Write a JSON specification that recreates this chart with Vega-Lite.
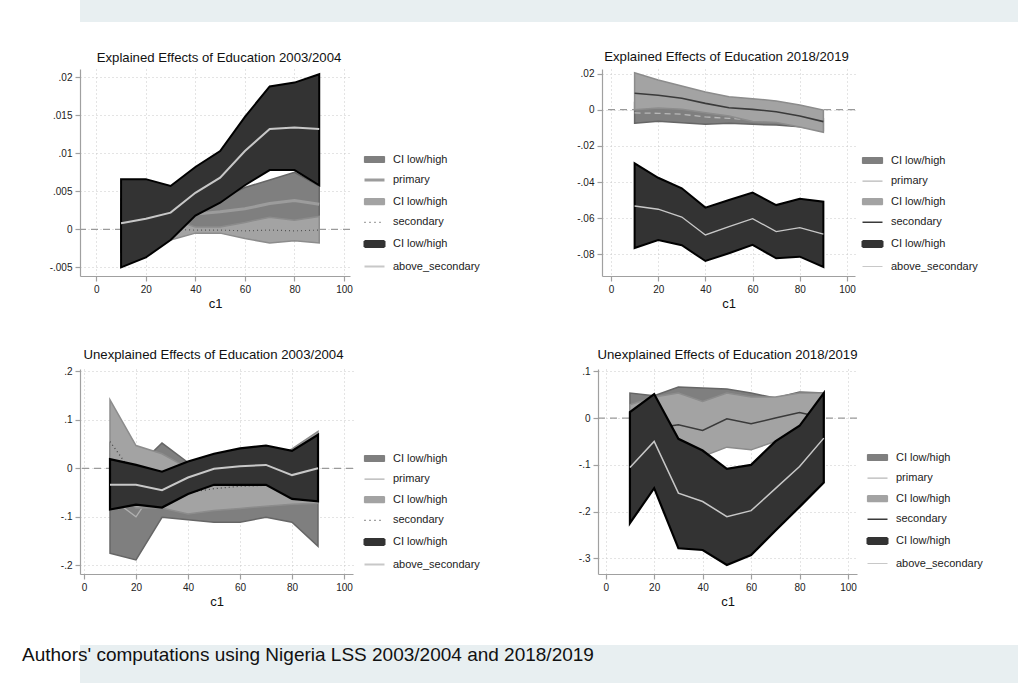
{
  "$schema": "https://vega.github.io/schema/vega-lite/v6.json",
  "background": "#ffffff",
  "padding": 0,
  "spacing": 28,
  "columns": 1,
  "align": "none",
  "datasets": {
    "p1": [
      {"c1": 10, "series": "primary", "ci": "ci_primary", "lo": -0.003, "hi": 0.004, "est": 0.0005},
      {"c1": 20, "series": "primary", "ci": "ci_primary", "lo": -0.002, "hi": 0.004, "est": 0.001},
      {"c1": 30, "series": "primary", "ci": "ci_primary", "lo": -0.001, "hi": 0.003, "est": 0.0012},
      {"c1": 40, "series": "primary", "ci": "ci_primary", "lo": 0.0, "hi": 0.0035, "est": 0.002},
      {"c1": 50, "series": "primary", "ci": "ci_primary", "lo": 0.0, "hi": 0.004, "est": 0.0023},
      {"c1": 60, "series": "primary", "ci": "ci_primary", "lo": 0.0002, "hi": 0.0055, "est": 0.0027},
      {"c1": 70, "series": "primary", "ci": "ci_primary", "lo": 0.0005, "hi": 0.0065, "est": 0.0034},
      {"c1": 80, "series": "primary", "ci": "ci_primary", "lo": 0.0003, "hi": 0.0075, "est": 0.0038},
      {"c1": 90, "series": "primary", "ci": "ci_primary", "lo": 0.0005, "hi": 0.0057, "est": 0.0033},
      {"c1": 10, "series": "secondary", "ci": "ci_secondary", "lo": -0.002, "hi": 0.002, "est": 0.0},
      {"c1": 20, "series": "secondary", "ci": "ci_secondary", "lo": -0.002, "hi": 0.002, "est": 0.0},
      {"c1": 30, "series": "secondary", "ci": "ci_secondary", "lo": -0.0014, "hi": 0.0014, "est": 0.0},
      {"c1": 40, "series": "secondary", "ci": "ci_secondary", "lo": -0.0005, "hi": 0.0003, "est": -0.0001},
      {"c1": 50, "series": "secondary", "ci": "ci_secondary", "lo": -0.0005, "hi": 0.0003, "est": -0.0001},
      {"c1": 60, "series": "secondary", "ci": "ci_secondary", "lo": -0.0012, "hi": 0.0009, "est": -0.0002},
      {"c1": 70, "series": "secondary", "ci": "ci_secondary", "lo": -0.0018, "hi": 0.0016, "est": -0.0001},
      {"c1": 80, "series": "secondary", "ci": "ci_secondary", "lo": -0.0015, "hi": 0.0012, "est": -0.0002},
      {"c1": 90, "series": "secondary", "ci": "ci_secondary", "lo": -0.0018, "hi": 0.0017, "est": -0.0001},
      {"c1": 10, "series": "above_secondary", "ci": "ci_above", "lo": -0.005, "hi": 0.0066, "est": 0.0008},
      {"c1": 20, "series": "above_secondary", "ci": "ci_above", "lo": -0.0037, "hi": 0.0066, "est": 0.0014},
      {"c1": 30, "series": "above_secondary", "ci": "ci_above", "lo": -0.0014, "hi": 0.0057, "est": 0.0022},
      {"c1": 40, "series": "above_secondary", "ci": "ci_above", "lo": 0.0018, "hi": 0.0082, "est": 0.0048},
      {"c1": 50, "series": "above_secondary", "ci": "ci_above", "lo": 0.0035, "hi": 0.0103, "est": 0.0068},
      {"c1": 60, "series": "above_secondary", "ci": "ci_above", "lo": 0.0058, "hi": 0.0148, "est": 0.0103},
      {"c1": 70, "series": "above_secondary", "ci": "ci_above", "lo": 0.0078, "hi": 0.0188, "est": 0.0132},
      {"c1": 80, "series": "above_secondary", "ci": "ci_above", "lo": 0.0078, "hi": 0.0193, "est": 0.0134},
      {"c1": 90, "series": "above_secondary", "ci": "ci_above", "lo": 0.0058, "hi": 0.0204, "est": 0.0132}
    ],
    "p2": [
      {"c1": 10, "series": "primary", "ci": "ci_primary", "lo": -0.0075, "hi": 0.004, "est": -0.0018},
      {"c1": 20, "series": "primary", "ci": "ci_primary", "lo": -0.0064, "hi": 0.004, "est": -0.002},
      {"c1": 30, "series": "primary", "ci": "ci_primary", "lo": -0.0072, "hi": 0.003, "est": -0.0025},
      {"c1": 40, "series": "primary", "ci": "ci_primary", "lo": -0.0081, "hi": 0.001, "est": -0.004},
      {"c1": 50, "series": "primary", "ci": "ci_primary", "lo": -0.0075, "hi": 0.0, "est": -0.0048},
      {"c1": 60, "series": "primary", "ci": "ci_primary", "lo": -0.0081, "hi": -0.001, "est": -0.0055},
      {"c1": 70, "series": "primary", "ci": "ci_primary", "lo": -0.0085, "hi": -0.002, "est": -0.006},
      {"c1": 80, "series": "primary", "ci": "ci_primary", "lo": -0.0094, "hi": -0.003, "est": -0.007},
      {"c1": 90, "series": "primary", "ci": "ci_primary", "lo": -0.0115, "hi": -0.005, "est": -0.009},
      {"c1": 10, "series": "secondary", "ci": "ci_secondary", "lo": 0.0, "hi": 0.0204, "est": 0.0091},
      {"c1": 20, "series": "secondary", "ci": "ci_secondary", "lo": 0.001, "hi": 0.0164, "est": 0.008},
      {"c1": 30, "series": "secondary", "ci": "ci_secondary", "lo": 0.0003, "hi": 0.0131, "est": 0.0063},
      {"c1": 40, "series": "secondary", "ci": "ci_secondary", "lo": -0.0017, "hi": 0.0098, "est": 0.0035},
      {"c1": 50, "series": "secondary", "ci": "ci_secondary", "lo": -0.0035, "hi": 0.0072, "est": 0.0011},
      {"c1": 60, "series": "secondary", "ci": "ci_secondary", "lo": -0.0065, "hi": 0.0061, "est": 0.0002},
      {"c1": 70, "series": "secondary", "ci": "ci_secondary", "lo": -0.007, "hi": 0.0048, "est": -0.0011},
      {"c1": 80, "series": "secondary", "ci": "ci_secondary", "lo": -0.0095, "hi": 0.0026, "est": -0.0035},
      {"c1": 90, "series": "secondary", "ci": "ci_secondary", "lo": -0.0125, "hi": -0.0002, "est": -0.0066},
      {"c1": 10, "series": "above_secondary", "ci": "ci_above", "lo": -0.0764, "hi": -0.0296, "est": -0.0532},
      {"c1": 20, "series": "above_secondary", "ci": "ci_above", "lo": -0.072, "hi": -0.0376, "est": -0.055},
      {"c1": 30, "series": "above_secondary", "ci": "ci_above", "lo": -0.0749, "hi": -0.0434, "est": -0.0593},
      {"c1": 40, "series": "above_secondary", "ci": "ci_above", "lo": -0.0836, "hi": -0.0541, "est": -0.0692},
      {"c1": 50, "series": "above_secondary", "ci": "ci_above", "lo": -0.0793, "hi": -0.0499, "est": -0.0646},
      {"c1": 60, "series": "above_secondary", "ci": "ci_above", "lo": -0.0747, "hi": -0.0458, "est": -0.0602},
      {"c1": 70, "series": "above_secondary", "ci": "ci_above", "lo": -0.0821, "hi": -0.0527, "est": -0.0674},
      {"c1": 80, "series": "above_secondary", "ci": "ci_above", "lo": -0.0812, "hi": -0.0492, "est": -0.0652},
      {"c1": 90, "series": "above_secondary", "ci": "ci_above", "lo": -0.0869, "hi": -0.0508, "est": -0.0688}
    ],
    "p3": [
      {"c1": 10, "series": "primary", "ci": "ci_primary", "lo": -0.175, "hi": 0.05, "est": -0.06},
      {"c1": 20, "series": "primary", "ci": "ci_primary", "lo": -0.189, "hi": 0.0, "est": -0.1},
      {"c1": 30, "series": "primary", "ci": "ci_primary", "lo": -0.101, "hi": 0.052, "est": -0.02},
      {"c1": 40, "series": "primary", "ci": "ci_primary", "lo": -0.106, "hi": 0.012, "est": -0.045},
      {"c1": 50, "series": "primary", "ci": "ci_primary", "lo": -0.111, "hi": 0.02, "est": -0.05},
      {"c1": 60, "series": "primary", "ci": "ci_primary", "lo": -0.111, "hi": 0.03, "est": -0.05},
      {"c1": 70, "series": "primary", "ci": "ci_primary", "lo": -0.101, "hi": 0.035, "est": -0.045},
      {"c1": 80, "series": "primary", "ci": "ci_primary", "lo": -0.111, "hi": 0.03, "est": -0.04},
      {"c1": 90, "series": "primary", "ci": "ci_primary", "lo": -0.161, "hi": 0.06, "est": -0.045},
      {"c1": 10, "series": "secondary", "ci": "ci_secondary", "lo": -0.03, "hi": 0.141, "est": 0.055},
      {"c1": 20, "series": "secondary", "ci": "ci_secondary", "lo": -0.082, "hi": 0.047, "est": -0.02},
      {"c1": 30, "series": "secondary", "ci": "ci_secondary", "lo": -0.082, "hi": 0.03, "est": -0.03},
      {"c1": 40, "series": "secondary", "ci": "ci_secondary", "lo": -0.094, "hi": 0.0, "est": -0.05},
      {"c1": 50, "series": "secondary", "ci": "ci_secondary", "lo": -0.087, "hi": 0.0, "est": -0.042},
      {"c1": 60, "series": "secondary", "ci": "ci_secondary", "lo": -0.083, "hi": 0.01, "est": -0.037},
      {"c1": 70, "series": "secondary", "ci": "ci_secondary", "lo": -0.078, "hi": 0.01, "est": -0.035},
      {"c1": 80, "series": "secondary", "ci": "ci_secondary", "lo": -0.074, "hi": 0.04, "est": -0.03},
      {"c1": 90, "series": "secondary", "ci": "ci_secondary", "lo": -0.072, "hi": 0.076, "est": 0.0},
      {"c1": 10, "series": "above_secondary", "ci": "ci_above", "lo": -0.085, "hi": 0.019, "est": -0.034},
      {"c1": 20, "series": "above_secondary", "ci": "ci_above", "lo": -0.075, "hi": 0.007, "est": -0.034},
      {"c1": 30, "series": "above_secondary", "ci": "ci_above", "lo": -0.081, "hi": -0.007, "est": -0.045},
      {"c1": 40, "series": "above_secondary", "ci": "ci_above", "lo": -0.053, "hi": 0.014, "est": -0.019},
      {"c1": 50, "series": "above_secondary", "ci": "ci_above", "lo": -0.034, "hi": 0.03, "est": -0.001},
      {"c1": 60, "series": "above_secondary", "ci": "ci_above", "lo": -0.034, "hi": 0.041, "est": 0.004},
      {"c1": 70, "series": "above_secondary", "ci": "ci_above", "lo": -0.034, "hi": 0.047, "est": 0.007},
      {"c1": 80, "series": "above_secondary", "ci": "ci_above", "lo": -0.063, "hi": 0.036, "est": -0.014},
      {"c1": 90, "series": "above_secondary", "ci": "ci_above", "lo": -0.068, "hi": 0.069, "est": 0.0}
    ],
    "p4": [
      {"c1": 10, "series": "primary", "ci": "ci_primary", "lo": -0.03, "hi": 0.0536, "est": 0.01},
      {"c1": 20, "series": "primary", "ci": "ci_primary", "lo": -0.04, "hi": 0.0478, "est": 0.01},
      {"c1": 30, "series": "primary", "ci": "ci_primary", "lo": -0.05, "hi": 0.0664, "est": 0.02},
      {"c1": 40, "series": "primary", "ci": "ci_primary", "lo": -0.06, "hi": 0.0643, "est": 0.0},
      {"c1": 50, "series": "primary", "ci": "ci_primary", "lo": -0.05, "hi": 0.0621, "est": 0.02},
      {"c1": 60, "series": "primary", "ci": "ci_primary", "lo": -0.05, "hi": 0.0536, "est": 0.015},
      {"c1": 70, "series": "primary", "ci": "ci_primary", "lo": -0.04, "hi": 0.0429, "est": 0.01},
      {"c1": 80, "series": "primary", "ci": "ci_primary", "lo": -0.02, "hi": 0.0557, "est": 0.02},
      {"c1": 90, "series": "primary", "ci": "ci_primary", "lo": 0.0, "hi": 0.0536, "est": 0.025},
      {"c1": 10, "series": "secondary", "ci": "ci_secondary", "lo": -0.02, "hi": 0.0285, "est": -0.03},
      {"c1": 20, "series": "secondary", "ci": "ci_secondary", "lo": -0.03, "hi": 0.045, "est": -0.022},
      {"c1": 30, "series": "secondary", "ci": "ci_secondary", "lo": -0.05, "hi": 0.0536, "est": -0.0143},
      {"c1": 40, "series": "secondary", "ci": "ci_secondary", "lo": -0.082, "hi": 0.0357, "est": -0.0265},
      {"c1": 50, "series": "secondary", "ci": "ci_secondary", "lo": -0.0622, "hi": 0.0536, "est": -0.0015},
      {"c1": 60, "series": "secondary", "ci": "ci_secondary", "lo": -0.068, "hi": 0.045, "est": -0.0122},
      {"c1": 70, "series": "secondary", "ci": "ci_secondary", "lo": -0.05, "hi": 0.045, "est": 0.0},
      {"c1": 80, "series": "secondary", "ci": "ci_secondary", "lo": -0.03, "hi": 0.0536, "est": 0.012},
      {"c1": 90, "series": "secondary", "ci": "ci_secondary", "lo": 0.0, "hi": 0.0536, "est": 0.0},
      {"c1": 10, "series": "above_secondary", "ci": "ci_above", "lo": -0.225, "hi": 0.0128, "est": -0.1058},
      {"c1": 20, "series": "above_secondary", "ci": "ci_above", "lo": -0.15, "hi": 0.0514, "est": -0.05},
      {"c1": 30, "series": "above_secondary", "ci": "ci_above", "lo": -0.2786, "hi": -0.0444, "est": -0.1607},
      {"c1": 40, "series": "above_secondary", "ci": "ci_above", "lo": -0.2822, "hi": -0.0694, "est": -0.1786},
      {"c1": 50, "series": "above_secondary", "ci": "ci_above", "lo": -0.3143, "hi": -0.1086, "est": -0.2108},
      {"c1": 60, "series": "above_secondary", "ci": "ci_above", "lo": -0.293, "hi": -0.1001, "est": -0.198},
      {"c1": 70, "series": "above_secondary", "ci": "ci_above", "lo": -0.241, "hi": -0.05, "est": -0.151},
      {"c1": 80, "series": "above_secondary", "ci": "ci_above", "lo": -0.19, "hi": -0.0165, "est": -0.1037},
      {"c1": 90, "series": "above_secondary", "ci": "ci_above", "lo": -0.138, "hi": 0.0536, "est": -0.0429}
    ]
  },
  "concat": [
    {
      "width": 1018,
      "height": 22,
      "data": {"values": []},
      "mark": "rect",
      "view": {"fill": "#e8eff1", "stroke": null}
    },
    {
      "spacing": 37,
      "columns": 1,
      "align": "none",
      "concat": [
        {
          "spacing": 38,
          "columns": 1,
          "align": "none",
          "concat": [
            {
              "spacing": 82,
              "hconcat": [
                {
                  "width": 270,
                  "height": 207,
                  "title": {"text": "Explained Effects of Education 2003/2004", "dx": 4},
                  "data": {"name": "p1"},
                  "layer": [
                    {
                      "data": {"values": [{"ref": 0}]},
                      "mark": {"type": "rule", "color": "#9a9a9a", "strokeDash": [7, 5], "strokeWidth": 1.2},
                      "encoding": {
                        "y": {"field": "ref", "type": "quantitative", "scale": {"domain": [-0.00614, 0.02109], "nice": false, "zero": false}, "axis": {"values": [-0.005, 0, 0.005, 0.01, 0.015, 0.02], "title": null, "minExtent": 80, "labelExpr": "(datum.value < 0 ? '-' : '') + replace(format(abs(datum.value), '~g'), '0.', '.')"}}
                      }
                    },
                    {
                      "transform": [{"filter": "datum.series == 'primary'"}],
                      "mark": {"type": "area", "stroke": "#666666", "strokeWidth": 1.5},
                      "encoding": {
                        "x": {"field": "c1", "type": "quantitative", "scale": {"domain": [-6.58, 102.42], "nice": false, "zero": false}, "axis": {"values": [0, 20, 40, 60, 80, 100], "title": "c1"}},
                        "y": {"field": "lo", "type": "quantitative", "scale": {"domain": [-0.00614, 0.02109], "nice": false, "zero": false}, "axis": {"values": [-0.005, 0, 0.005, 0.01, 0.015, 0.02], "title": null, "minExtent": 80, "labelExpr": "(datum.value < 0 ? '-' : '') + replace(format(abs(datum.value), '~g'), '0.', '.')"}},
                        "y2": {"field": "hi"},
                        "color": {"field": "ci", "type": "nominal", "scale": {"domain": ["ci_primary", "primary", "ci_secondary", "secondary", "ci_above", "above_secondary"], "range": ["#7f7f7f", "#9c9c9c", "#a3a3a3", "#555555", "#333333", "#c8c8c8"]}, "legend": {"orient": "none", "legendX": 289, "legendY": 85, "title": null, "labelExpr": "indexof(datum.label, 'ci_') == 0 ? 'CI low/high' : datum.label", "encode": {"symbols": {"update": {"shape": {"signal": "indexof(datum.value, 'ci_') == 0 ? 'M-1,-0.3H1V0.3H-1Z' : 'stroke'"}, "size": {"value": 400}, "opacity": {"value": 1}, "fill": {"signal": "datum.value == 'ci_primary' ? '#7f7f7f' : datum.value == 'ci_secondary' ? '#a3a3a3' : datum.value == 'ci_above' ? '#333333' : 'transparent'"}, "stroke": {"signal": "datum.value == 'ci_primary' ? '#666666' : datum.value == 'ci_secondary' ? '#8c8c8c' : datum.value == 'ci_above' ? '#000000' : datum.value == 'primary' ? '#9c9c9c' : datum.value == 'secondary' ? '#555555' : '#c8c8c8'"}, "strokeWidth": {"signal": "datum.value == 'ci_above' ? 2 : datum.value == 'primary' ? 3 : datum.value == 'above_secondary' ? 2 : 1.2"}, "strokeDash": {"signal": "datum.value == 'secondary' ? [1, 4] : [1, 0]"}}}}}}
                      }
                    },
                    {
                      "transform": [{"filter": "datum.series == 'primary'"}],
                      "mark": {"type": "line", "strokeWidth": 3},
                      "encoding": {
                        "x": {"field": "c1", "type": "quantitative", "scale": {"domain": [-6.58, 102.42], "nice": false, "zero": false}, "axis": {"values": [0, 20, 40, 60, 80, 100], "title": "c1"}},
                        "y": {"field": "est", "type": "quantitative", "scale": {"domain": [-0.00614, 0.02109], "nice": false, "zero": false}, "axis": {"values": [-0.005, 0, 0.005, 0.01, 0.015, 0.02], "title": null, "minExtent": 80, "labelExpr": "(datum.value < 0 ? '-' : '') + replace(format(abs(datum.value), '~g'), '0.', '.')"}},
                        "color": {"field": "series", "type": "nominal", "scale": {"domain": ["ci_primary", "primary", "ci_secondary", "secondary", "ci_above", "above_secondary"], "range": ["#7f7f7f", "#9c9c9c", "#a3a3a3", "#555555", "#333333", "#c8c8c8"]}, "legend": {"orient": "none", "legendX": 289, "legendY": 85, "title": null, "labelExpr": "indexof(datum.label, 'ci_') == 0 ? 'CI low/high' : datum.label", "encode": {"symbols": {"update": {"shape": {"signal": "indexof(datum.value, 'ci_') == 0 ? 'M-1,-0.3H1V0.3H-1Z' : 'stroke'"}, "size": {"value": 400}, "opacity": {"value": 1}, "fill": {"signal": "datum.value == 'ci_primary' ? '#7f7f7f' : datum.value == 'ci_secondary' ? '#a3a3a3' : datum.value == 'ci_above' ? '#333333' : 'transparent'"}, "stroke": {"signal": "datum.value == 'ci_primary' ? '#666666' : datum.value == 'ci_secondary' ? '#8c8c8c' : datum.value == 'ci_above' ? '#000000' : datum.value == 'primary' ? '#9c9c9c' : datum.value == 'secondary' ? '#555555' : '#c8c8c8'"}, "strokeWidth": {"signal": "datum.value == 'ci_above' ? 2 : datum.value == 'primary' ? 3 : datum.value == 'above_secondary' ? 2 : 1.2"}, "strokeDash": {"signal": "datum.value == 'secondary' ? [1, 4] : [1, 0]"}}}}}}
                      }
                    },
                    {
                      "transform": [{"filter": "datum.series == 'secondary'"}],
                      "mark": {"type": "area", "stroke": "#8c8c8c", "strokeWidth": 1.5},
                      "encoding": {
                        "x": {"field": "c1", "type": "quantitative", "scale": {"domain": [-6.58, 102.42], "nice": false, "zero": false}, "axis": {"values": [0, 20, 40, 60, 80, 100], "title": "c1"}},
                        "y": {"field": "lo", "type": "quantitative", "scale": {"domain": [-0.00614, 0.02109], "nice": false, "zero": false}, "axis": {"values": [-0.005, 0, 0.005, 0.01, 0.015, 0.02], "title": null, "minExtent": 80, "labelExpr": "(datum.value < 0 ? '-' : '') + replace(format(abs(datum.value), '~g'), '0.', '.')"}},
                        "y2": {"field": "hi"},
                        "color": {"field": "ci", "type": "nominal", "scale": {"domain": ["ci_primary", "primary", "ci_secondary", "secondary", "ci_above", "above_secondary"], "range": ["#7f7f7f", "#9c9c9c", "#a3a3a3", "#555555", "#333333", "#c8c8c8"]}, "legend": {"orient": "none", "legendX": 289, "legendY": 85, "title": null, "labelExpr": "indexof(datum.label, 'ci_') == 0 ? 'CI low/high' : datum.label", "encode": {"symbols": {"update": {"shape": {"signal": "indexof(datum.value, 'ci_') == 0 ? 'M-1,-0.3H1V0.3H-1Z' : 'stroke'"}, "size": {"value": 400}, "opacity": {"value": 1}, "fill": {"signal": "datum.value == 'ci_primary' ? '#7f7f7f' : datum.value == 'ci_secondary' ? '#a3a3a3' : datum.value == 'ci_above' ? '#333333' : 'transparent'"}, "stroke": {"signal": "datum.value == 'ci_primary' ? '#666666' : datum.value == 'ci_secondary' ? '#8c8c8c' : datum.value == 'ci_above' ? '#000000' : datum.value == 'primary' ? '#9c9c9c' : datum.value == 'secondary' ? '#555555' : '#c8c8c8'"}, "strokeWidth": {"signal": "datum.value == 'ci_above' ? 2 : datum.value == 'primary' ? 3 : datum.value == 'above_secondary' ? 2 : 1.2"}, "strokeDash": {"signal": "datum.value == 'secondary' ? [1, 4] : [1, 0]"}}}}}}
                      }
                    },
                    {
                      "transform": [{"filter": "datum.series == 'secondary'"}],
                      "mark": {"type": "line", "strokeWidth": 1.2, "strokeDash": [1, 3]},
                      "encoding": {
                        "x": {"field": "c1", "type": "quantitative", "scale": {"domain": [-6.58, 102.42], "nice": false, "zero": false}, "axis": {"values": [0, 20, 40, 60, 80, 100], "title": "c1"}},
                        "y": {"field": "est", "type": "quantitative", "scale": {"domain": [-0.00614, 0.02109], "nice": false, "zero": false}, "axis": {"values": [-0.005, 0, 0.005, 0.01, 0.015, 0.02], "title": null, "minExtent": 80, "labelExpr": "(datum.value < 0 ? '-' : '') + replace(format(abs(datum.value), '~g'), '0.', '.')"}},
                        "color": {"field": "series", "type": "nominal", "scale": {"domain": ["ci_primary", "primary", "ci_secondary", "secondary", "ci_above", "above_secondary"], "range": ["#7f7f7f", "#9c9c9c", "#a3a3a3", "#555555", "#333333", "#c8c8c8"]}, "legend": {"orient": "none", "legendX": 289, "legendY": 85, "title": null, "labelExpr": "indexof(datum.label, 'ci_') == 0 ? 'CI low/high' : datum.label", "encode": {"symbols": {"update": {"shape": {"signal": "indexof(datum.value, 'ci_') == 0 ? 'M-1,-0.3H1V0.3H-1Z' : 'stroke'"}, "size": {"value": 400}, "opacity": {"value": 1}, "fill": {"signal": "datum.value == 'ci_primary' ? '#7f7f7f' : datum.value == 'ci_secondary' ? '#a3a3a3' : datum.value == 'ci_above' ? '#333333' : 'transparent'"}, "stroke": {"signal": "datum.value == 'ci_primary' ? '#666666' : datum.value == 'ci_secondary' ? '#8c8c8c' : datum.value == 'ci_above' ? '#000000' : datum.value == 'primary' ? '#9c9c9c' : datum.value == 'secondary' ? '#555555' : '#c8c8c8'"}, "strokeWidth": {"signal": "datum.value == 'ci_above' ? 2 : datum.value == 'primary' ? 3 : datum.value == 'above_secondary' ? 2 : 1.2"}, "strokeDash": {"signal": "datum.value == 'secondary' ? [1, 4] : [1, 0]"}}}}}}
                      }
                    },
                    {
                      "transform": [{"filter": "datum.series == 'above_secondary'"}],
                      "mark": {"type": "area", "stroke": "#000000", "strokeWidth": 2},
                      "encoding": {
                        "x": {"field": "c1", "type": "quantitative", "scale": {"domain": [-6.58, 102.42], "nice": false, "zero": false}, "axis": {"values": [0, 20, 40, 60, 80, 100], "title": "c1"}},
                        "y": {"field": "lo", "type": "quantitative", "scale": {"domain": [-0.00614, 0.02109], "nice": false, "zero": false}, "axis": {"values": [-0.005, 0, 0.005, 0.01, 0.015, 0.02], "title": null, "minExtent": 80, "labelExpr": "(datum.value < 0 ? '-' : '') + replace(format(abs(datum.value), '~g'), '0.', '.')"}},
                        "y2": {"field": "hi"},
                        "color": {"field": "ci", "type": "nominal", "scale": {"domain": ["ci_primary", "primary", "ci_secondary", "secondary", "ci_above", "above_secondary"], "range": ["#7f7f7f", "#9c9c9c", "#a3a3a3", "#555555", "#333333", "#c8c8c8"]}, "legend": {"orient": "none", "legendX": 289, "legendY": 85, "title": null, "labelExpr": "indexof(datum.label, 'ci_') == 0 ? 'CI low/high' : datum.label", "encode": {"symbols": {"update": {"shape": {"signal": "indexof(datum.value, 'ci_') == 0 ? 'M-1,-0.3H1V0.3H-1Z' : 'stroke'"}, "size": {"value": 400}, "opacity": {"value": 1}, "fill": {"signal": "datum.value == 'ci_primary' ? '#7f7f7f' : datum.value == 'ci_secondary' ? '#a3a3a3' : datum.value == 'ci_above' ? '#333333' : 'transparent'"}, "stroke": {"signal": "datum.value == 'ci_primary' ? '#666666' : datum.value == 'ci_secondary' ? '#8c8c8c' : datum.value == 'ci_above' ? '#000000' : datum.value == 'primary' ? '#9c9c9c' : datum.value == 'secondary' ? '#555555' : '#c8c8c8'"}, "strokeWidth": {"signal": "datum.value == 'ci_above' ? 2 : datum.value == 'primary' ? 3 : datum.value == 'above_secondary' ? 2 : 1.2"}, "strokeDash": {"signal": "datum.value == 'secondary' ? [1, 4] : [1, 0]"}}}}}}
                      }
                    },
                    {
                      "transform": [{"filter": "datum.series == 'above_secondary'"}],
                      "mark": {"type": "line", "strokeWidth": 2},
                      "encoding": {
                        "x": {"field": "c1", "type": "quantitative", "scale": {"domain": [-6.58, 102.42], "nice": false, "zero": false}, "axis": {"values": [0, 20, 40, 60, 80, 100], "title": "c1"}},
                        "y": {"field": "est", "type": "quantitative", "scale": {"domain": [-0.00614, 0.02109], "nice": false, "zero": false}, "axis": {"values": [-0.005, 0, 0.005, 0.01, 0.015, 0.02], "title": null, "minExtent": 80, "labelExpr": "(datum.value < 0 ? '-' : '') + replace(format(abs(datum.value), '~g'), '0.', '.')"}},
                        "color": {"field": "series", "type": "nominal", "scale": {"domain": ["ci_primary", "primary", "ci_secondary", "secondary", "ci_above", "above_secondary"], "range": ["#7f7f7f", "#9c9c9c", "#a3a3a3", "#555555", "#333333", "#c8c8c8"]}, "legend": {"orient": "none", "legendX": 289, "legendY": 85, "title": null, "labelExpr": "indexof(datum.label, 'ci_') == 0 ? 'CI low/high' : datum.label", "encode": {"symbols": {"update": {"shape": {"signal": "indexof(datum.value, 'ci_') == 0 ? 'M-1,-0.3H1V0.3H-1Z' : 'stroke'"}, "size": {"value": 400}, "opacity": {"value": 1}, "fill": {"signal": "datum.value == 'ci_primary' ? '#7f7f7f' : datum.value == 'ci_secondary' ? '#a3a3a3' : datum.value == 'ci_above' ? '#333333' : 'transparent'"}, "stroke": {"signal": "datum.value == 'ci_primary' ? '#666666' : datum.value == 'ci_secondary' ? '#8c8c8c' : datum.value == 'ci_above' ? '#000000' : datum.value == 'primary' ? '#9c9c9c' : datum.value == 'secondary' ? '#555555' : '#c8c8c8'"}, "strokeWidth": {"signal": "datum.value == 'ci_above' ? 2 : datum.value == 'primary' ? 3 : datum.value == 'above_secondary' ? 2 : 1.2"}, "strokeDash": {"signal": "datum.value == 'secondary' ? [1, 4] : [1, 0]"}}}}}}
                      }
                    }
                  ]
                },
                {
                  "width": 253,
                  "height": 207,
                  "title": {"text": "Explained Effects of Education 2018/2019", "dx": -2},
                  "data": {"name": "p2"},
                  "layer": [
                    {
                      "data": {"values": [{"ref": 0}]},
                      "mark": {"type": "rule", "color": "#9a9a9a", "strokeDash": [7, 5], "strokeWidth": 1.2},
                      "encoding": {
                        "y": {"field": "ref", "type": "quantitative", "scale": {"domain": [-0.09188, 0.02249], "nice": false, "zero": false}, "axis": {"values": [-0.08, -0.06, -0.04, -0.02, 0, 0.02], "title": null, "minExtent": 40, "labelExpr": "(datum.value < 0 ? '-' : '') + replace(format(abs(datum.value), '~g'), '0.', '.')"}}
                      }
                    },
                    {
                      "transform": [{"filter": "datum.series == 'primary'"}],
                      "mark": {"type": "area", "stroke": "#666666", "strokeWidth": 1.5},
                      "encoding": {
                        "x": {"field": "c1", "type": "quantitative", "scale": {"domain": [-3.82, 103.4], "nice": false, "zero": false}, "axis": {"values": [0, 20, 40, 60, 80, 100], "title": "c1"}},
                        "y": {"field": "lo", "type": "quantitative", "scale": {"domain": [-0.09188, 0.02249], "nice": false, "zero": false}, "axis": {"values": [-0.08, -0.06, -0.04, -0.02, 0, 0.02], "title": null, "minExtent": 40, "labelExpr": "(datum.value < 0 ? '-' : '') + replace(format(abs(datum.value), '~g'), '0.', '.')"}},
                        "y2": {"field": "hi"},
                        "color": {"field": "ci", "type": "nominal", "scale": {"domain": ["ci_primary", "primary", "ci_secondary", "secondary", "ci_above", "above_secondary"], "range": ["#7f7f7f", "#b8b8b8", "#a3a3a3", "#3a3a3a", "#333333", "#c8c8c8"]}, "legend": {"orient": "none", "legendX": 265, "legendY": 86, "title": null, "labelExpr": "indexof(datum.label, 'ci_') == 0 ? 'CI low/high' : datum.label", "encode": {"symbols": {"update": {"shape": {"signal": "indexof(datum.value, 'ci_') == 0 ? 'M-1,-0.3H1V0.3H-1Z' : 'stroke'"}, "size": {"value": 400}, "opacity": {"value": 1}, "fill": {"signal": "datum.value == 'ci_primary' ? '#7f7f7f' : datum.value == 'ci_secondary' ? '#a3a3a3' : datum.value == 'ci_above' ? '#333333' : 'transparent'"}, "stroke": {"signal": "datum.value == 'ci_primary' ? '#666666' : datum.value == 'ci_secondary' ? '#8c8c8c' : datum.value == 'ci_above' ? '#000000' : datum.value == 'primary' ? '#b8b8b8' : datum.value == 'secondary' ? '#3a3a3a' : '#c8c8c8'"}, "strokeWidth": {"signal": "datum.value == 'ci_above' ? 2 : datum.value == 'secondary' ? 1.6 : 1.2"}, "strokeDash": {"value": [1, 0]}}}}}}
                      }
                    },
                    {
                      "transform": [{"filter": "datum.series == 'primary'"}],
                      "mark": {"type": "line", "strokeWidth": 1.3, "strokeDash": [6, 4]},
                      "encoding": {
                        "x": {"field": "c1", "type": "quantitative", "scale": {"domain": [-3.82, 103.4], "nice": false, "zero": false}, "axis": {"values": [0, 20, 40, 60, 80, 100], "title": "c1"}},
                        "y": {"field": "est", "type": "quantitative", "scale": {"domain": [-0.09188, 0.02249], "nice": false, "zero": false}, "axis": {"values": [-0.08, -0.06, -0.04, -0.02, 0, 0.02], "title": null, "minExtent": 40, "labelExpr": "(datum.value < 0 ? '-' : '') + replace(format(abs(datum.value), '~g'), '0.', '.')"}},
                        "color": {"field": "series", "type": "nominal", "scale": {"domain": ["ci_primary", "primary", "ci_secondary", "secondary", "ci_above", "above_secondary"], "range": ["#7f7f7f", "#b8b8b8", "#a3a3a3", "#3a3a3a", "#333333", "#c8c8c8"]}, "legend": {"orient": "none", "legendX": 265, "legendY": 86, "title": null, "labelExpr": "indexof(datum.label, 'ci_') == 0 ? 'CI low/high' : datum.label", "encode": {"symbols": {"update": {"shape": {"signal": "indexof(datum.value, 'ci_') == 0 ? 'M-1,-0.3H1V0.3H-1Z' : 'stroke'"}, "size": {"value": 400}, "opacity": {"value": 1}, "fill": {"signal": "datum.value == 'ci_primary' ? '#7f7f7f' : datum.value == 'ci_secondary' ? '#a3a3a3' : datum.value == 'ci_above' ? '#333333' : 'transparent'"}, "stroke": {"signal": "datum.value == 'ci_primary' ? '#666666' : datum.value == 'ci_secondary' ? '#8c8c8c' : datum.value == 'ci_above' ? '#000000' : datum.value == 'primary' ? '#b8b8b8' : datum.value == 'secondary' ? '#3a3a3a' : '#c8c8c8'"}, "strokeWidth": {"signal": "datum.value == 'ci_above' ? 2 : datum.value == 'secondary' ? 1.6 : 1.2"}, "strokeDash": {"value": [1, 0]}}}}}}
                      }
                    },
                    {
                      "transform": [{"filter": "datum.series == 'secondary'"}],
                      "mark": {"type": "area", "stroke": "#8c8c8c", "strokeWidth": 1.5},
                      "encoding": {
                        "x": {"field": "c1", "type": "quantitative", "scale": {"domain": [-3.82, 103.4], "nice": false, "zero": false}, "axis": {"values": [0, 20, 40, 60, 80, 100], "title": "c1"}},
                        "y": {"field": "lo", "type": "quantitative", "scale": {"domain": [-0.09188, 0.02249], "nice": false, "zero": false}, "axis": {"values": [-0.08, -0.06, -0.04, -0.02, 0, 0.02], "title": null, "minExtent": 40, "labelExpr": "(datum.value < 0 ? '-' : '') + replace(format(abs(datum.value), '~g'), '0.', '.')"}},
                        "y2": {"field": "hi"},
                        "color": {"field": "ci", "type": "nominal", "scale": {"domain": ["ci_primary", "primary", "ci_secondary", "secondary", "ci_above", "above_secondary"], "range": ["#7f7f7f", "#b8b8b8", "#a3a3a3", "#3a3a3a", "#333333", "#c8c8c8"]}, "legend": {"orient": "none", "legendX": 265, "legendY": 86, "title": null, "labelExpr": "indexof(datum.label, 'ci_') == 0 ? 'CI low/high' : datum.label", "encode": {"symbols": {"update": {"shape": {"signal": "indexof(datum.value, 'ci_') == 0 ? 'M-1,-0.3H1V0.3H-1Z' : 'stroke'"}, "size": {"value": 400}, "opacity": {"value": 1}, "fill": {"signal": "datum.value == 'ci_primary' ? '#7f7f7f' : datum.value == 'ci_secondary' ? '#a3a3a3' : datum.value == 'ci_above' ? '#333333' : 'transparent'"}, "stroke": {"signal": "datum.value == 'ci_primary' ? '#666666' : datum.value == 'ci_secondary' ? '#8c8c8c' : datum.value == 'ci_above' ? '#000000' : datum.value == 'primary' ? '#b8b8b8' : datum.value == 'secondary' ? '#3a3a3a' : '#c8c8c8'"}, "strokeWidth": {"signal": "datum.value == 'ci_above' ? 2 : datum.value == 'secondary' ? 1.6 : 1.2"}, "strokeDash": {"value": [1, 0]}}}}}}
                      }
                    },
                    {
                      "transform": [{"filter": "datum.series == 'secondary'"}],
                      "mark": {"type": "line", "strokeWidth": 1.6},
                      "encoding": {
                        "x": {"field": "c1", "type": "quantitative", "scale": {"domain": [-3.82, 103.4], "nice": false, "zero": false}, "axis": {"values": [0, 20, 40, 60, 80, 100], "title": "c1"}},
                        "y": {"field": "est", "type": "quantitative", "scale": {"domain": [-0.09188, 0.02249], "nice": false, "zero": false}, "axis": {"values": [-0.08, -0.06, -0.04, -0.02, 0, 0.02], "title": null, "minExtent": 40, "labelExpr": "(datum.value < 0 ? '-' : '') + replace(format(abs(datum.value), '~g'), '0.', '.')"}},
                        "color": {"field": "series", "type": "nominal", "scale": {"domain": ["ci_primary", "primary", "ci_secondary", "secondary", "ci_above", "above_secondary"], "range": ["#7f7f7f", "#b8b8b8", "#a3a3a3", "#3a3a3a", "#333333", "#c8c8c8"]}, "legend": {"orient": "none", "legendX": 265, "legendY": 86, "title": null, "labelExpr": "indexof(datum.label, 'ci_') == 0 ? 'CI low/high' : datum.label", "encode": {"symbols": {"update": {"shape": {"signal": "indexof(datum.value, 'ci_') == 0 ? 'M-1,-0.3H1V0.3H-1Z' : 'stroke'"}, "size": {"value": 400}, "opacity": {"value": 1}, "fill": {"signal": "datum.value == 'ci_primary' ? '#7f7f7f' : datum.value == 'ci_secondary' ? '#a3a3a3' : datum.value == 'ci_above' ? '#333333' : 'transparent'"}, "stroke": {"signal": "datum.value == 'ci_primary' ? '#666666' : datum.value == 'ci_secondary' ? '#8c8c8c' : datum.value == 'ci_above' ? '#000000' : datum.value == 'primary' ? '#b8b8b8' : datum.value == 'secondary' ? '#3a3a3a' : '#c8c8c8'"}, "strokeWidth": {"signal": "datum.value == 'ci_above' ? 2 : datum.value == 'secondary' ? 1.6 : 1.2"}, "strokeDash": {"value": [1, 0]}}}}}}
                      }
                    },
                    {
                      "transform": [{"filter": "datum.series == 'above_secondary'"}],
                      "mark": {"type": "area", "stroke": "#000000", "strokeWidth": 2},
                      "encoding": {
                        "x": {"field": "c1", "type": "quantitative", "scale": {"domain": [-3.82, 103.4], "nice": false, "zero": false}, "axis": {"values": [0, 20, 40, 60, 80, 100], "title": "c1"}},
                        "y": {"field": "lo", "type": "quantitative", "scale": {"domain": [-0.09188, 0.02249], "nice": false, "zero": false}, "axis": {"values": [-0.08, -0.06, -0.04, -0.02, 0, 0.02], "title": null, "minExtent": 40, "labelExpr": "(datum.value < 0 ? '-' : '') + replace(format(abs(datum.value), '~g'), '0.', '.')"}},
                        "y2": {"field": "hi"},
                        "color": {"field": "ci", "type": "nominal", "scale": {"domain": ["ci_primary", "primary", "ci_secondary", "secondary", "ci_above", "above_secondary"], "range": ["#7f7f7f", "#b8b8b8", "#a3a3a3", "#3a3a3a", "#333333", "#c8c8c8"]}, "legend": {"orient": "none", "legendX": 265, "legendY": 86, "title": null, "labelExpr": "indexof(datum.label, 'ci_') == 0 ? 'CI low/high' : datum.label", "encode": {"symbols": {"update": {"shape": {"signal": "indexof(datum.value, 'ci_') == 0 ? 'M-1,-0.3H1V0.3H-1Z' : 'stroke'"}, "size": {"value": 400}, "opacity": {"value": 1}, "fill": {"signal": "datum.value == 'ci_primary' ? '#7f7f7f' : datum.value == 'ci_secondary' ? '#a3a3a3' : datum.value == 'ci_above' ? '#333333' : 'transparent'"}, "stroke": {"signal": "datum.value == 'ci_primary' ? '#666666' : datum.value == 'ci_secondary' ? '#8c8c8c' : datum.value == 'ci_above' ? '#000000' : datum.value == 'primary' ? '#b8b8b8' : datum.value == 'secondary' ? '#3a3a3a' : '#c8c8c8'"}, "strokeWidth": {"signal": "datum.value == 'ci_above' ? 2 : datum.value == 'secondary' ? 1.6 : 1.2"}, "strokeDash": {"value": [1, 0]}}}}}}
                      }
                    },
                    {
                      "transform": [{"filter": "datum.series == 'above_secondary'"}],
                      "mark": {"type": "line", "strokeWidth": 1.3},
                      "encoding": {
                        "x": {"field": "c1", "type": "quantitative", "scale": {"domain": [-3.82, 103.4], "nice": false, "zero": false}, "axis": {"values": [0, 20, 40, 60, 80, 100], "title": "c1"}},
                        "y": {"field": "est", "type": "quantitative", "scale": {"domain": [-0.09188, 0.02249], "nice": false, "zero": false}, "axis": {"values": [-0.08, -0.06, -0.04, -0.02, 0, 0.02], "title": null, "minExtent": 40, "labelExpr": "(datum.value < 0 ? '-' : '') + replace(format(abs(datum.value), '~g'), '0.', '.')"}},
                        "color": {"field": "series", "type": "nominal", "scale": {"domain": ["ci_primary", "primary", "ci_secondary", "secondary", "ci_above", "above_secondary"], "range": ["#7f7f7f", "#b8b8b8", "#a3a3a3", "#3a3a3a", "#333333", "#c8c8c8"]}, "legend": {"orient": "none", "legendX": 265, "legendY": 86, "title": null, "labelExpr": "indexof(datum.label, 'ci_') == 0 ? 'CI low/high' : datum.label", "encode": {"symbols": {"update": {"shape": {"signal": "indexof(datum.value, 'ci_') == 0 ? 'M-1,-0.3H1V0.3H-1Z' : 'stroke'"}, "size": {"value": 400}, "opacity": {"value": 1}, "fill": {"signal": "datum.value == 'ci_primary' ? '#7f7f7f' : datum.value == 'ci_secondary' ? '#a3a3a3' : datum.value == 'ci_above' ? '#333333' : 'transparent'"}, "stroke": {"signal": "datum.value == 'ci_primary' ? '#666666' : datum.value == 'ci_secondary' ? '#8c8c8c' : datum.value == 'ci_above' ? '#000000' : datum.value == 'primary' ? '#b8b8b8' : datum.value == 'secondary' ? '#3a3a3a' : '#c8c8c8'"}, "strokeWidth": {"signal": "datum.value == 'ci_above' ? 2 : datum.value == 'secondary' ? 1.6 : 1.2"}, "strokeDash": {"value": [1, 0]}}}}}}
                      }
                    }
                  ]
                }
              ],
              "resolve": {"scale": {"x": "independent", "y": "independent", "color": "independent"}, "legend": {"color": "independent"}}
            },
            {
              "spacing": 78,
              "hconcat": [
                {
                  "width": 273,
                  "height": 205,
                  "title": {"text": "Unexplained Effects of Education 2003/2004", "dx": -3},
                  "data": {"name": "p3"},
                  "layer": [
                    {
                      "data": {"values": [{"ref": 0}]},
                      "mark": {"type": "rule", "color": "#9a9a9a", "strokeDash": [7, 5], "strokeWidth": 1.2},
                      "encoding": {
                        "y": {"field": "ref", "type": "quantitative", "scale": {"domain": [-0.2179, 0.2047], "nice": false, "zero": false}, "axis": {"values": [-0.2, -0.1, 0, 0.1, 0.2], "title": null, "minExtent": 80, "labelExpr": "(datum.value < 0 ? '-' : '') + replace(format(abs(datum.value), '~g'), '0.', '.')"}}
                      }
                    },
                    {
                      "transform": [{"filter": "datum.series == 'primary'"}],
                      "mark": {"type": "area", "stroke": "#666666", "strokeWidth": 1.5},
                      "encoding": {
                        "x": {"field": "c1", "type": "quantitative", "scale": {"domain": [-1.54, 103.46], "nice": false, "zero": false}, "axis": {"values": [0, 20, 40, 60, 80, 100], "title": "c1"}},
                        "y": {"field": "lo", "type": "quantitative", "scale": {"domain": [-0.2179, 0.2047], "nice": false, "zero": false}, "axis": {"values": [-0.2, -0.1, 0, 0.1, 0.2], "title": null, "minExtent": 80, "labelExpr": "(datum.value < 0 ? '-' : '') + replace(format(abs(datum.value), '~g'), '0.', '.')"}},
                        "y2": {"field": "hi"},
                        "color": {"field": "ci", "type": "nominal", "scale": {"domain": ["ci_primary", "primary", "ci_secondary", "secondary", "ci_above", "above_secondary"], "range": ["#7f7f7f", "#b0b0b0", "#a3a3a3", "#444444", "#333333", "#c8c8c8"]}, "legend": {"orient": "none", "legendX": 289, "legendY": 84, "title": null, "labelExpr": "indexof(datum.label, 'ci_') == 0 ? 'CI low/high' : datum.label", "encode": {"symbols": {"update": {"shape": {"signal": "indexof(datum.value, 'ci_') == 0 ? 'M-1,-0.3H1V0.3H-1Z' : 'stroke'"}, "size": {"value": 400}, "opacity": {"value": 1}, "fill": {"signal": "datum.value == 'ci_primary' ? '#7f7f7f' : datum.value == 'ci_secondary' ? '#a3a3a3' : datum.value == 'ci_above' ? '#333333' : 'transparent'"}, "stroke": {"signal": "datum.value == 'ci_primary' ? '#666666' : datum.value == 'ci_secondary' ? '#8c8c8c' : datum.value == 'ci_above' ? '#000000' : datum.value == 'primary' ? '#b0b0b0' : datum.value == 'secondary' ? '#444444' : '#c8c8c8'"}, "strokeWidth": {"signal": "datum.value == 'ci_above' ? 2 : datum.value == 'above_secondary' ? 2 : 1.2"}, "strokeDash": {"signal": "datum.value == 'secondary' ? [1, 4] : [1, 0]"}}}}}}
                      }
                    },
                    {
                      "transform": [{"filter": "datum.series == 'primary'"}],
                      "mark": {"type": "line", "strokeWidth": 1.3},
                      "encoding": {
                        "x": {"field": "c1", "type": "quantitative", "scale": {"domain": [-1.54, 103.46], "nice": false, "zero": false}, "axis": {"values": [0, 20, 40, 60, 80, 100], "title": "c1"}},
                        "y": {"field": "est", "type": "quantitative", "scale": {"domain": [-0.2179, 0.2047], "nice": false, "zero": false}, "axis": {"values": [-0.2, -0.1, 0, 0.1, 0.2], "title": null, "minExtent": 80, "labelExpr": "(datum.value < 0 ? '-' : '') + replace(format(abs(datum.value), '~g'), '0.', '.')"}},
                        "color": {"field": "series", "type": "nominal", "scale": {"domain": ["ci_primary", "primary", "ci_secondary", "secondary", "ci_above", "above_secondary"], "range": ["#7f7f7f", "#b0b0b0", "#a3a3a3", "#444444", "#333333", "#c8c8c8"]}, "legend": {"orient": "none", "legendX": 289, "legendY": 84, "title": null, "labelExpr": "indexof(datum.label, 'ci_') == 0 ? 'CI low/high' : datum.label", "encode": {"symbols": {"update": {"shape": {"signal": "indexof(datum.value, 'ci_') == 0 ? 'M-1,-0.3H1V0.3H-1Z' : 'stroke'"}, "size": {"value": 400}, "opacity": {"value": 1}, "fill": {"signal": "datum.value == 'ci_primary' ? '#7f7f7f' : datum.value == 'ci_secondary' ? '#a3a3a3' : datum.value == 'ci_above' ? '#333333' : 'transparent'"}, "stroke": {"signal": "datum.value == 'ci_primary' ? '#666666' : datum.value == 'ci_secondary' ? '#8c8c8c' : datum.value == 'ci_above' ? '#000000' : datum.value == 'primary' ? '#b0b0b0' : datum.value == 'secondary' ? '#444444' : '#c8c8c8'"}, "strokeWidth": {"signal": "datum.value == 'ci_above' ? 2 : datum.value == 'above_secondary' ? 2 : 1.2"}, "strokeDash": {"signal": "datum.value == 'secondary' ? [1, 4] : [1, 0]"}}}}}}
                      }
                    },
                    {
                      "transform": [{"filter": "datum.series == 'secondary'"}],
                      "mark": {"type": "area", "stroke": "#8c8c8c", "strokeWidth": 1.5},
                      "encoding": {
                        "x": {"field": "c1", "type": "quantitative", "scale": {"domain": [-1.54, 103.46], "nice": false, "zero": false}, "axis": {"values": [0, 20, 40, 60, 80, 100], "title": "c1"}},
                        "y": {"field": "lo", "type": "quantitative", "scale": {"domain": [-0.2179, 0.2047], "nice": false, "zero": false}, "axis": {"values": [-0.2, -0.1, 0, 0.1, 0.2], "title": null, "minExtent": 80, "labelExpr": "(datum.value < 0 ? '-' : '') + replace(format(abs(datum.value), '~g'), '0.', '.')"}},
                        "y2": {"field": "hi"},
                        "color": {"field": "ci", "type": "nominal", "scale": {"domain": ["ci_primary", "primary", "ci_secondary", "secondary", "ci_above", "above_secondary"], "range": ["#7f7f7f", "#b0b0b0", "#a3a3a3", "#444444", "#333333", "#c8c8c8"]}, "legend": {"orient": "none", "legendX": 289, "legendY": 84, "title": null, "labelExpr": "indexof(datum.label, 'ci_') == 0 ? 'CI low/high' : datum.label", "encode": {"symbols": {"update": {"shape": {"signal": "indexof(datum.value, 'ci_') == 0 ? 'M-1,-0.3H1V0.3H-1Z' : 'stroke'"}, "size": {"value": 400}, "opacity": {"value": 1}, "fill": {"signal": "datum.value == 'ci_primary' ? '#7f7f7f' : datum.value == 'ci_secondary' ? '#a3a3a3' : datum.value == 'ci_above' ? '#333333' : 'transparent'"}, "stroke": {"signal": "datum.value == 'ci_primary' ? '#666666' : datum.value == 'ci_secondary' ? '#8c8c8c' : datum.value == 'ci_above' ? '#000000' : datum.value == 'primary' ? '#b0b0b0' : datum.value == 'secondary' ? '#444444' : '#c8c8c8'"}, "strokeWidth": {"signal": "datum.value == 'ci_above' ? 2 : datum.value == 'above_secondary' ? 2 : 1.2"}, "strokeDash": {"signal": "datum.value == 'secondary' ? [1, 4] : [1, 0]"}}}}}}
                      }
                    },
                    {
                      "transform": [{"filter": "datum.series == 'secondary'"}],
                      "mark": {"type": "line", "strokeWidth": 1.3, "strokeDash": [1, 3]},
                      "encoding": {
                        "x": {"field": "c1", "type": "quantitative", "scale": {"domain": [-1.54, 103.46], "nice": false, "zero": false}, "axis": {"values": [0, 20, 40, 60, 80, 100], "title": "c1"}},
                        "y": {"field": "est", "type": "quantitative", "scale": {"domain": [-0.2179, 0.2047], "nice": false, "zero": false}, "axis": {"values": [-0.2, -0.1, 0, 0.1, 0.2], "title": null, "minExtent": 80, "labelExpr": "(datum.value < 0 ? '-' : '') + replace(format(abs(datum.value), '~g'), '0.', '.')"}},
                        "color": {"field": "series", "type": "nominal", "scale": {"domain": ["ci_primary", "primary", "ci_secondary", "secondary", "ci_above", "above_secondary"], "range": ["#7f7f7f", "#b0b0b0", "#a3a3a3", "#444444", "#333333", "#c8c8c8"]}, "legend": {"orient": "none", "legendX": 289, "legendY": 84, "title": null, "labelExpr": "indexof(datum.label, 'ci_') == 0 ? 'CI low/high' : datum.label", "encode": {"symbols": {"update": {"shape": {"signal": "indexof(datum.value, 'ci_') == 0 ? 'M-1,-0.3H1V0.3H-1Z' : 'stroke'"}, "size": {"value": 400}, "opacity": {"value": 1}, "fill": {"signal": "datum.value == 'ci_primary' ? '#7f7f7f' : datum.value == 'ci_secondary' ? '#a3a3a3' : datum.value == 'ci_above' ? '#333333' : 'transparent'"}, "stroke": {"signal": "datum.value == 'ci_primary' ? '#666666' : datum.value == 'ci_secondary' ? '#8c8c8c' : datum.value == 'ci_above' ? '#000000' : datum.value == 'primary' ? '#b0b0b0' : datum.value == 'secondary' ? '#444444' : '#c8c8c8'"}, "strokeWidth": {"signal": "datum.value == 'ci_above' ? 2 : datum.value == 'above_secondary' ? 2 : 1.2"}, "strokeDash": {"signal": "datum.value == 'secondary' ? [1, 4] : [1, 0]"}}}}}}
                      }
                    },
                    {
                      "transform": [{"filter": "datum.series == 'above_secondary'"}],
                      "mark": {"type": "area", "stroke": "#000000", "strokeWidth": 2.2},
                      "encoding": {
                        "x": {"field": "c1", "type": "quantitative", "scale": {"domain": [-1.54, 103.46], "nice": false, "zero": false}, "axis": {"values": [0, 20, 40, 60, 80, 100], "title": "c1"}},
                        "y": {"field": "lo", "type": "quantitative", "scale": {"domain": [-0.2179, 0.2047], "nice": false, "zero": false}, "axis": {"values": [-0.2, -0.1, 0, 0.1, 0.2], "title": null, "minExtent": 80, "labelExpr": "(datum.value < 0 ? '-' : '') + replace(format(abs(datum.value), '~g'), '0.', '.')"}},
                        "y2": {"field": "hi"},
                        "color": {"field": "ci", "type": "nominal", "scale": {"domain": ["ci_primary", "primary", "ci_secondary", "secondary", "ci_above", "above_secondary"], "range": ["#7f7f7f", "#b0b0b0", "#a3a3a3", "#444444", "#333333", "#c8c8c8"]}, "legend": {"orient": "none", "legendX": 289, "legendY": 84, "title": null, "labelExpr": "indexof(datum.label, 'ci_') == 0 ? 'CI low/high' : datum.label", "encode": {"symbols": {"update": {"shape": {"signal": "indexof(datum.value, 'ci_') == 0 ? 'M-1,-0.3H1V0.3H-1Z' : 'stroke'"}, "size": {"value": 400}, "opacity": {"value": 1}, "fill": {"signal": "datum.value == 'ci_primary' ? '#7f7f7f' : datum.value == 'ci_secondary' ? '#a3a3a3' : datum.value == 'ci_above' ? '#333333' : 'transparent'"}, "stroke": {"signal": "datum.value == 'ci_primary' ? '#666666' : datum.value == 'ci_secondary' ? '#8c8c8c' : datum.value == 'ci_above' ? '#000000' : datum.value == 'primary' ? '#b0b0b0' : datum.value == 'secondary' ? '#444444' : '#c8c8c8'"}, "strokeWidth": {"signal": "datum.value == 'ci_above' ? 2 : datum.value == 'above_secondary' ? 2 : 1.2"}, "strokeDash": {"signal": "datum.value == 'secondary' ? [1, 4] : [1, 0]"}}}}}}
                      }
                    },
                    {
                      "transform": [{"filter": "datum.series == 'above_secondary'"}],
                      "mark": {"type": "line", "strokeWidth": 2},
                      "encoding": {
                        "x": {"field": "c1", "type": "quantitative", "scale": {"domain": [-1.54, 103.46], "nice": false, "zero": false}, "axis": {"values": [0, 20, 40, 60, 80, 100], "title": "c1"}},
                        "y": {"field": "est", "type": "quantitative", "scale": {"domain": [-0.2179, 0.2047], "nice": false, "zero": false}, "axis": {"values": [-0.2, -0.1, 0, 0.1, 0.2], "title": null, "minExtent": 80, "labelExpr": "(datum.value < 0 ? '-' : '') + replace(format(abs(datum.value), '~g'), '0.', '.')"}},
                        "color": {"field": "series", "type": "nominal", "scale": {"domain": ["ci_primary", "primary", "ci_secondary", "secondary", "ci_above", "above_secondary"], "range": ["#7f7f7f", "#b0b0b0", "#a3a3a3", "#444444", "#333333", "#c8c8c8"]}, "legend": {"orient": "none", "legendX": 289, "legendY": 84, "title": null, "labelExpr": "indexof(datum.label, 'ci_') == 0 ? 'CI low/high' : datum.label", "encode": {"symbols": {"update": {"shape": {"signal": "indexof(datum.value, 'ci_') == 0 ? 'M-1,-0.3H1V0.3H-1Z' : 'stroke'"}, "size": {"value": 400}, "opacity": {"value": 1}, "fill": {"signal": "datum.value == 'ci_primary' ? '#7f7f7f' : datum.value == 'ci_secondary' ? '#a3a3a3' : datum.value == 'ci_above' ? '#333333' : 'transparent'"}, "stroke": {"signal": "datum.value == 'ci_primary' ? '#666666' : datum.value == 'ci_secondary' ? '#8c8c8c' : datum.value == 'ci_above' ? '#000000' : datum.value == 'primary' ? '#b0b0b0' : datum.value == 'secondary' ? '#444444' : '#c8c8c8'"}, "strokeWidth": {"signal": "datum.value == 'ci_above' ? 2 : datum.value == 'above_secondary' ? 2 : 1.2"}, "strokeDash": {"signal": "datum.value == 'secondary' ? [1, 4] : [1, 0]"}}}}}}
                      }
                    }
                  ]
                },
                {
                  "width": 259,
                  "height": 205,
                  "title": {"text": "Unexplained Effects of Education 2018/2019"},
                  "data": {"name": "p4"},
                  "layer": [
                    {
                      "data": {"values": [{"ref": 0}]},
                      "mark": {"type": "rule", "color": "#9a9a9a", "strokeDash": [7, 5], "strokeWidth": 1.2},
                      "encoding": {
                        "y": {"field": "ref", "type": "quantitative", "scale": {"domain": [-0.3336, 0.105], "nice": false, "zero": false}, "axis": {"values": [-0.3, -0.2, -0.1, 0, 0.1], "title": null, "minExtent": 40, "labelExpr": "(datum.value < 0 ? '-' : '') + replace(format(abs(datum.value), '~g'), '0.', '.')"}}
                      }
                    },
                    {
                      "transform": [{"filter": "datum.series == 'primary'"}],
                      "mark": {"type": "area", "stroke": "#666666", "strokeWidth": 1.5},
                      "encoding": {
                        "x": {"field": "c1", "type": "quantitative", "scale": {"domain": [-3.18, 103.7], "nice": false, "zero": false}, "axis": {"values": [0, 20, 40, 60, 80, 100], "title": "c1"}},
                        "y": {"field": "lo", "type": "quantitative", "scale": {"domain": [-0.3336, 0.105], "nice": false, "zero": false}, "axis": {"values": [-0.3, -0.2, -0.1, 0, 0.1], "title": null, "minExtent": 40, "labelExpr": "(datum.value < 0 ? '-' : '') + replace(format(abs(datum.value), '~g'), '0.', '.')"}},
                        "y2": {"field": "hi"},
                        "color": {"field": "ci", "type": "nominal", "scale": {"domain": ["ci_primary", "primary", "ci_secondary", "secondary", "ci_above", "above_secondary"], "range": ["#7f7f7f", "#b8b8b8", "#a3a3a3", "#3a3a3a", "#333333", "#c8c8c8"]}, "legend": {"orient": "none", "legendX": 274, "legendY": 83, "title": null, "labelExpr": "indexof(datum.label, 'ci_') == 0 ? 'CI low/high' : datum.label", "encode": {"symbols": {"update": {"shape": {"signal": "indexof(datum.value, 'ci_') == 0 ? 'M-1,-0.3H1V0.3H-1Z' : 'stroke'"}, "size": {"value": 400}, "opacity": {"value": 1}, "fill": {"signal": "datum.value == 'ci_primary' ? '#7f7f7f' : datum.value == 'ci_secondary' ? '#a3a3a3' : datum.value == 'ci_above' ? '#333333' : 'transparent'"}, "stroke": {"signal": "datum.value == 'ci_primary' ? '#666666' : datum.value == 'ci_secondary' ? '#8c8c8c' : datum.value == 'ci_above' ? '#000000' : datum.value == 'primary' ? '#b8b8b8' : datum.value == 'secondary' ? '#3a3a3a' : '#c8c8c8'"}, "strokeWidth": {"signal": "datum.value == 'ci_above' ? 2 : datum.value == 'secondary' ? 1.6 : 1.2"}, "strokeDash": {"value": [1, 0]}}}}}}
                      }
                    },
                    {
                      "transform": [{"filter": "datum.series == 'primary'"}],
                      "mark": {"type": "line", "strokeWidth": 1.3},
                      "encoding": {
                        "x": {"field": "c1", "type": "quantitative", "scale": {"domain": [-3.18, 103.7], "nice": false, "zero": false}, "axis": {"values": [0, 20, 40, 60, 80, 100], "title": "c1"}},
                        "y": {"field": "est", "type": "quantitative", "scale": {"domain": [-0.3336, 0.105], "nice": false, "zero": false}, "axis": {"values": [-0.3, -0.2, -0.1, 0, 0.1], "title": null, "minExtent": 40, "labelExpr": "(datum.value < 0 ? '-' : '') + replace(format(abs(datum.value), '~g'), '0.', '.')"}},
                        "color": {"field": "series", "type": "nominal", "scale": {"domain": ["ci_primary", "primary", "ci_secondary", "secondary", "ci_above", "above_secondary"], "range": ["#7f7f7f", "#b8b8b8", "#a3a3a3", "#3a3a3a", "#333333", "#c8c8c8"]}, "legend": {"orient": "none", "legendX": 274, "legendY": 83, "title": null, "labelExpr": "indexof(datum.label, 'ci_') == 0 ? 'CI low/high' : datum.label", "encode": {"symbols": {"update": {"shape": {"signal": "indexof(datum.value, 'ci_') == 0 ? 'M-1,-0.3H1V0.3H-1Z' : 'stroke'"}, "size": {"value": 400}, "opacity": {"value": 1}, "fill": {"signal": "datum.value == 'ci_primary' ? '#7f7f7f' : datum.value == 'ci_secondary' ? '#a3a3a3' : datum.value == 'ci_above' ? '#333333' : 'transparent'"}, "stroke": {"signal": "datum.value == 'ci_primary' ? '#666666' : datum.value == 'ci_secondary' ? '#8c8c8c' : datum.value == 'ci_above' ? '#000000' : datum.value == 'primary' ? '#b8b8b8' : datum.value == 'secondary' ? '#3a3a3a' : '#c8c8c8'"}, "strokeWidth": {"signal": "datum.value == 'ci_above' ? 2 : datum.value == 'secondary' ? 1.6 : 1.2"}, "strokeDash": {"value": [1, 0]}}}}}}
                      }
                    },
                    {
                      "transform": [{"filter": "datum.series == 'secondary'"}],
                      "mark": {"type": "area", "stroke": "#8c8c8c", "strokeWidth": 1.5},
                      "encoding": {
                        "x": {"field": "c1", "type": "quantitative", "scale": {"domain": [-3.18, 103.7], "nice": false, "zero": false}, "axis": {"values": [0, 20, 40, 60, 80, 100], "title": "c1"}},
                        "y": {"field": "lo", "type": "quantitative", "scale": {"domain": [-0.3336, 0.105], "nice": false, "zero": false}, "axis": {"values": [-0.3, -0.2, -0.1, 0, 0.1], "title": null, "minExtent": 40, "labelExpr": "(datum.value < 0 ? '-' : '') + replace(format(abs(datum.value), '~g'), '0.', '.')"}},
                        "y2": {"field": "hi"},
                        "color": {"field": "ci", "type": "nominal", "scale": {"domain": ["ci_primary", "primary", "ci_secondary", "secondary", "ci_above", "above_secondary"], "range": ["#7f7f7f", "#b8b8b8", "#a3a3a3", "#3a3a3a", "#333333", "#c8c8c8"]}, "legend": {"orient": "none", "legendX": 274, "legendY": 83, "title": null, "labelExpr": "indexof(datum.label, 'ci_') == 0 ? 'CI low/high' : datum.label", "encode": {"symbols": {"update": {"shape": {"signal": "indexof(datum.value, 'ci_') == 0 ? 'M-1,-0.3H1V0.3H-1Z' : 'stroke'"}, "size": {"value": 400}, "opacity": {"value": 1}, "fill": {"signal": "datum.value == 'ci_primary' ? '#7f7f7f' : datum.value == 'ci_secondary' ? '#a3a3a3' : datum.value == 'ci_above' ? '#333333' : 'transparent'"}, "stroke": {"signal": "datum.value == 'ci_primary' ? '#666666' : datum.value == 'ci_secondary' ? '#8c8c8c' : datum.value == 'ci_above' ? '#000000' : datum.value == 'primary' ? '#b8b8b8' : datum.value == 'secondary' ? '#3a3a3a' : '#c8c8c8'"}, "strokeWidth": {"signal": "datum.value == 'ci_above' ? 2 : datum.value == 'secondary' ? 1.6 : 1.2"}, "strokeDash": {"value": [1, 0]}}}}}}
                      }
                    },
                    {
                      "transform": [{"filter": "datum.series == 'secondary'"}],
                      "mark": {"type": "line", "strokeWidth": 1.6},
                      "encoding": {
                        "x": {"field": "c1", "type": "quantitative", "scale": {"domain": [-3.18, 103.7], "nice": false, "zero": false}, "axis": {"values": [0, 20, 40, 60, 80, 100], "title": "c1"}},
                        "y": {"field": "est", "type": "quantitative", "scale": {"domain": [-0.3336, 0.105], "nice": false, "zero": false}, "axis": {"values": [-0.3, -0.2, -0.1, 0, 0.1], "title": null, "minExtent": 40, "labelExpr": "(datum.value < 0 ? '-' : '') + replace(format(abs(datum.value), '~g'), '0.', '.')"}},
                        "color": {"field": "series", "type": "nominal", "scale": {"domain": ["ci_primary", "primary", "ci_secondary", "secondary", "ci_above", "above_secondary"], "range": ["#7f7f7f", "#b8b8b8", "#a3a3a3", "#3a3a3a", "#333333", "#c8c8c8"]}, "legend": {"orient": "none", "legendX": 274, "legendY": 83, "title": null, "labelExpr": "indexof(datum.label, 'ci_') == 0 ? 'CI low/high' : datum.label", "encode": {"symbols": {"update": {"shape": {"signal": "indexof(datum.value, 'ci_') == 0 ? 'M-1,-0.3H1V0.3H-1Z' : 'stroke'"}, "size": {"value": 400}, "opacity": {"value": 1}, "fill": {"signal": "datum.value == 'ci_primary' ? '#7f7f7f' : datum.value == 'ci_secondary' ? '#a3a3a3' : datum.value == 'ci_above' ? '#333333' : 'transparent'"}, "stroke": {"signal": "datum.value == 'ci_primary' ? '#666666' : datum.value == 'ci_secondary' ? '#8c8c8c' : datum.value == 'ci_above' ? '#000000' : datum.value == 'primary' ? '#b8b8b8' : datum.value == 'secondary' ? '#3a3a3a' : '#c8c8c8'"}, "strokeWidth": {"signal": "datum.value == 'ci_above' ? 2 : datum.value == 'secondary' ? 1.6 : 1.2"}, "strokeDash": {"value": [1, 0]}}}}}}
                      }
                    },
                    {
                      "transform": [{"filter": "datum.series == 'above_secondary'"}],
                      "mark": {"type": "area", "stroke": "#000000", "strokeWidth": 2.2},
                      "encoding": {
                        "x": {"field": "c1", "type": "quantitative", "scale": {"domain": [-3.18, 103.7], "nice": false, "zero": false}, "axis": {"values": [0, 20, 40, 60, 80, 100], "title": "c1"}},
                        "y": {"field": "lo", "type": "quantitative", "scale": {"domain": [-0.3336, 0.105], "nice": false, "zero": false}, "axis": {"values": [-0.3, -0.2, -0.1, 0, 0.1], "title": null, "minExtent": 40, "labelExpr": "(datum.value < 0 ? '-' : '') + replace(format(abs(datum.value), '~g'), '0.', '.')"}},
                        "y2": {"field": "hi"},
                        "color": {"field": "ci", "type": "nominal", "scale": {"domain": ["ci_primary", "primary", "ci_secondary", "secondary", "ci_above", "above_secondary"], "range": ["#7f7f7f", "#b8b8b8", "#a3a3a3", "#3a3a3a", "#333333", "#c8c8c8"]}, "legend": {"orient": "none", "legendX": 274, "legendY": 83, "title": null, "labelExpr": "indexof(datum.label, 'ci_') == 0 ? 'CI low/high' : datum.label", "encode": {"symbols": {"update": {"shape": {"signal": "indexof(datum.value, 'ci_') == 0 ? 'M-1,-0.3H1V0.3H-1Z' : 'stroke'"}, "size": {"value": 400}, "opacity": {"value": 1}, "fill": {"signal": "datum.value == 'ci_primary' ? '#7f7f7f' : datum.value == 'ci_secondary' ? '#a3a3a3' : datum.value == 'ci_above' ? '#333333' : 'transparent'"}, "stroke": {"signal": "datum.value == 'ci_primary' ? '#666666' : datum.value == 'ci_secondary' ? '#8c8c8c' : datum.value == 'ci_above' ? '#000000' : datum.value == 'primary' ? '#b8b8b8' : datum.value == 'secondary' ? '#3a3a3a' : '#c8c8c8'"}, "strokeWidth": {"signal": "datum.value == 'ci_above' ? 2 : datum.value == 'secondary' ? 1.6 : 1.2"}, "strokeDash": {"value": [1, 0]}}}}}}
                      }
                    },
                    {
                      "transform": [{"filter": "datum.series == 'above_secondary'"}],
                      "mark": {"type": "line", "strokeWidth": 1.5},
                      "encoding": {
                        "x": {"field": "c1", "type": "quantitative", "scale": {"domain": [-3.18, 103.7], "nice": false, "zero": false}, "axis": {"values": [0, 20, 40, 60, 80, 100], "title": "c1"}},
                        "y": {"field": "est", "type": "quantitative", "scale": {"domain": [-0.3336, 0.105], "nice": false, "zero": false}, "axis": {"values": [-0.3, -0.2, -0.1, 0, 0.1], "title": null, "minExtent": 40, "labelExpr": "(datum.value < 0 ? '-' : '') + replace(format(abs(datum.value), '~g'), '0.', '.')"}},
                        "color": {"field": "series", "type": "nominal", "scale": {"domain": ["ci_primary", "primary", "ci_secondary", "secondary", "ci_above", "above_secondary"], "range": ["#7f7f7f", "#b8b8b8", "#a3a3a3", "#3a3a3a", "#333333", "#c8c8c8"]}, "legend": {"orient": "none", "legendX": 274, "legendY": 83, "title": null, "labelExpr": "indexof(datum.label, 'ci_') == 0 ? 'CI low/high' : datum.label", "encode": {"symbols": {"update": {"shape": {"signal": "indexof(datum.value, 'ci_') == 0 ? 'M-1,-0.3H1V0.3H-1Z' : 'stroke'"}, "size": {"value": 400}, "opacity": {"value": 1}, "fill": {"signal": "datum.value == 'ci_primary' ? '#7f7f7f' : datum.value == 'ci_secondary' ? '#a3a3a3' : datum.value == 'ci_above' ? '#333333' : 'transparent'"}, "stroke": {"signal": "datum.value == 'ci_primary' ? '#666666' : datum.value == 'ci_secondary' ? '#8c8c8c' : datum.value == 'ci_above' ? '#000000' : datum.value == 'primary' ? '#b8b8b8' : datum.value == 'secondary' ? '#3a3a3a' : '#c8c8c8'"}, "strokeWidth": {"signal": "datum.value == 'ci_above' ? 2 : datum.value == 'secondary' ? 1.6 : 1.2"}, "strokeDash": {"value": [1, 0]}}}}}}
                      }
                    }
                  ]
                }
              ],
              "resolve": {"scale": {"x": "independent", "y": "independent", "color": "independent"}, "legend": {"color": "independent"}}
            }
          ],
          "resolve": {"scale": {"x": "independent", "y": "independent", "color": "independent"}, "legend": {"color": "independent"}}
        },
        {
          "width": 1018,
          "height": 38,
          "data": {"values": []},
          "mark": "rect",
          "view": {"fill": "#e8eff1", "stroke": null},
          "title": {"text": "Authors' computations using Nigeria LSS 2003/2004 and 2018/2019", "anchor": "start", "frame": "group", "orient": "top", "offset": -20, "dx": -58, "fontSize": 19, "color": "#111111"}
        }
      ],
      "resolve": {"scale": {"x": "independent", "y": "independent", "color": "independent"}, "legend": {"color": "independent"}}
    }
  ],
  "resolve": {"scale": {"x": "independent", "y": "independent", "color": "independent"}, "legend": {"color": "independent"}},
  "config": {
    "font": "Liberation Sans",
    "view": {"stroke": null},
    "axis": {"grid": true, "gridColor": "#c9c9c9", "gridDash": [1, 3], "gridWidth": 1, "domainColor": "#a0a0a0", "domainWidth": 1.2, "tickColor": "#a0a0a0", "tickSize": 5, "tickWidth": 1.2, "labelFont": "Liberation Sans", "labelFontSize": 10, "labelColor": "#222222", "labelPadding": 3, "titleFont": "Liberation Sans", "titleFontSize": 13, "titleFontWeight": "normal", "titleColor": "#111111", "labelFlush": false},
    "axisX": {"titlePadding": 3},
    "title": {"font": "Liberation Sans", "fontSize": 13.2, "fontWeight": "normal", "color": "#111111", "frame": "group", "anchor": "middle", "offset": 4},
    "legend": {"padding": 0, "labelFont": "Liberation Sans", "labelFontSize": 11, "labelColor": "#222222", "labelOffset": 13, "rowPadding": 8.6, "symbolSize": 400, "labelLimit": 200}
  }
}
